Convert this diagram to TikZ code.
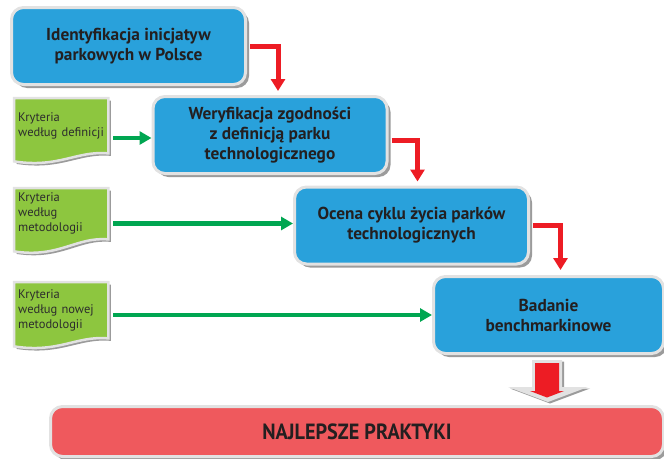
\documentclass[tikz,border=0pt]{standalone}
\usepackage{fontspec}
\setmainfont{PT Sans}
\newfontfamily\condfont[FakeStretch=0.92]{PT Sans}
\usetikzlibrary{arrows.meta,shadows,calc,backgrounds}

\definecolor{boxblue}{RGB}{41,161,219}
\definecolor{inkdark}{RGB}{35,31,32}
\definecolor{docink}{RGB}{45,45,45}
\definecolor{docgreen}{RGB}{141,198,63}
\definecolor{flowgreen}{RGB}{0,166,81}
\definecolor{flowred}{RGB}{237,28,36}
\definecolor{barred}{RGB}{239,89,93}
\definecolor{rimgray}{RGB}{226,226,226}
\definecolor{shadegray}{RGB}{155,155,155}

\tikzset{
  softshadow/.style={drop shadow={shadow xshift=3.5pt,shadow yshift=-3.5pt,fill=shadegray,opacity=1}},
  stagebox/.style={rounded corners=12pt, fill=boxblue, draw=rimgray, line width=3pt,
    minimum width=234pt, minimum height=77pt, align=center, text=inkdark,
    font=\fontsize{17.3}{20}\selectfont\bfseries, softshadow},
  docnode/.style={anchor=north west, minimum width=94pt, inner xsep=4pt, inner ysep=0pt,
    text width=86pt, align=left, text=docink, font=\fontsize{12.5}{15}\selectfont},
  docpaper/.style={fill=docgreen, draw=rimgray, line width=2.5pt, line join=miter,
    drop shadow={shadow xshift=2.5pt,shadow yshift=-2.5pt,fill=shadegray,opacity=1}},
  greenflow/.style={draw=flowgreen, line width=4.5pt,
    -{Triangle[width=13pt,length=12pt]}},
  redflow/.style={draw=flowred, line width=5pt, line join=miter,
    -{Triangle[width=14pt,length=12pt]}},
  resultbar/.style={rounded corners=12pt, fill=barred, draw=rimgray, line width=3pt,
    minimum width=613pt, minimum height=50pt, text=inkdark, softshadow},
}

\begin{document}
\begin{tikzpicture}[x=1pt,y=-1pt]
\useasboundingbox (0,0) rectangle (664,458);

% process stages
\node[stagebox] (box1) at (128.5,46)  {Identyfikacja inicjatyw\\parkowych w Polsce};
\node[stagebox] (box2) at (270,135)   {Weryfikacja zgodności\\z definicją parku\\technologicznego};
\node[stagebox] (box3) at (411.5,225.5) {Ocena cyklu życia parków\\technologicznych};
\node[stagebox, minimum width=230pt] (box4) at (548.5,315) {Badanie\\benchmarkinowe};

% criteria documents (lines kept whole with \mbox)
\node[docnode, minimum height=55pt] (d1) at (14,98)  {Kryteria\\\mbox{według definicji}};
\node[docnode, minimum height=51pt] (d2) at (14,188) {Kryteria\\według\\metodologii};
\node[docnode, minimum height=56pt] (d3) at (14,282) {Kryteria\\\mbox{według nowej}\\metodologii};

\begin{scope}[on background layer]
  \foreach \d/\drop in {d1/8,d2/12,d3/8}{
    \path[docpaper] (\d.north west) -- (\d.north east) -- (\d.south east)
      .. controls ($(\d.south east)+(-32,-3)$) and ($(\d.south west)+(45,\drop+7)$)
      .. ($(\d.south west)+(0,\drop)$) -- cycle;
  }
\end{scope}

% criteria feeding the stages
\draw[greenflow] ([xshift=5pt,yshift=-3pt]d1.east |- box2.west) -- ([yshift=-3pt]box2.west);
\draw[greenflow] ([xshift=5pt,yshift=2pt]d2.east |- box3.west) -- ([yshift=2pt]box3.west);
\draw[greenflow] ([xshift=5pt]d3.east |- box4.west) -- (box4.west);

% stage-to-stage links
\draw[redflow, shorten >=4pt] ([xshift=3pt]box1.east) -| ([xshift=8pt]box2.north);
\draw[redflow, shorten >=4pt] ([xshift=3pt,yshift=-5pt]box2.east) -| ([xshift=6pt]box3.north);
\draw[redflow, shorten >=5pt] ([xshift=3pt]box3.east) -| ([xshift=12pt]box4.north);

% result
\node[resultbar] (best) at (357,431.5)
  {\raisebox{-3pt}{\condfont\bfseries\fontsize{22}{26}\selectfont NAJLEPSZE PRAKTYKI}};

% block arrow towards the result
\path[fill=rimgray, drop shadow={shadow xshift=2pt,shadow yshift=-1.5pt,fill=shadegray,opacity=1}]
  (532,360) -- (562,360) -- (562,387) -- (588,387) -- (548,402) -- (508,387) -- (532,387) -- cycle;
\path[fill=flowred]
  (535,363) -- (559,363) -- (559,391) -- (564,391) -- (547,397.5) -- (530,391) -- (535,391) -- cycle;
\end{tikzpicture}
\end{document}
